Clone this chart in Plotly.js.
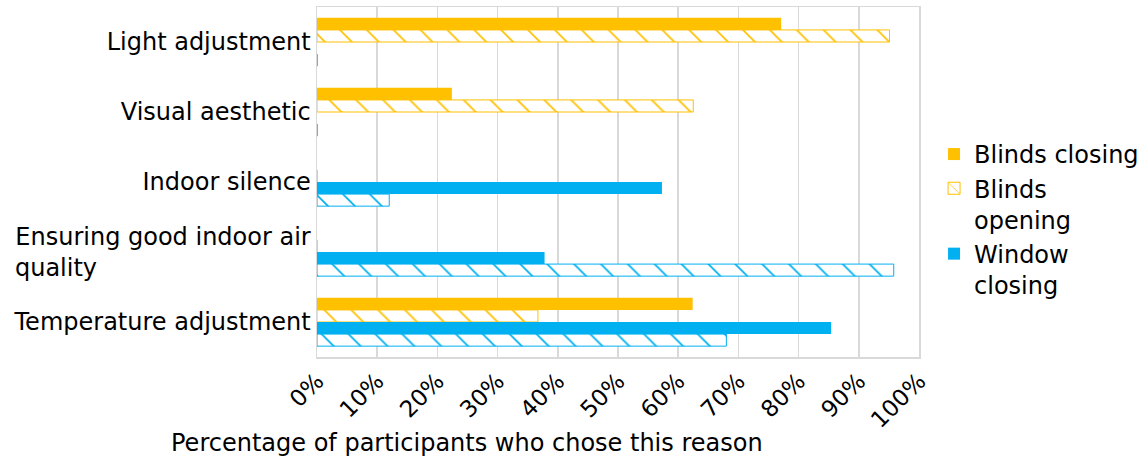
<!DOCTYPE html>
<html>
<head>
<meta charset="utf-8">
<script src="https://cdn.plot.ly/plotly-3.0.1.min.js"></script>
<style>html,body{margin:0;padding:0;background:#fff;}#chart{width:1141px;height:462px;}</style>
</head>
<body>
<div id="chart"></div>
<script>
// Categories (top to bottom)
var categories = [
  "Light adjustment",
  "Visual aesthetic",
  "Indoor silence",
  "Ensuring good indoor air quality",
  "Temperature adjustment"
];
// Display labels for the category axis
var categoryLabels = [
  "Light adjustment",
  "Visual aesthetic",
  "Indoor silence",
  "Ensuring good indoor air<br>quality" + "\u00a0".repeat(28),
  "Temperature adjustment"
];
var seriesNames = ["Blinds closing", "Blinds opening", "Window closing", "Window opening"];
// Percentage of participants
var blindsClosing  = [77.1, 22.4, 0, 0, 62.4];
var blindsOpening  = [95.1, 62.5, 0, 0, 36.7];
var windowClosing  = [0, 0, 57.3, 37.8, 85.4];
var windowOpening  = [0, 0, 12.0, 95.8, 68.0];
var xTickVals = [0,10,20,30,40,50,60,70,80,90,100];

var YELLOW = "#FFC000", BLUE = "#00B0F0";
var FONT = "DejaVu Sans";

function solid(name, vals, color) {
  return {type: "bar", orientation: "h", name: name, y: categories, x: vals,
    marker: {color: color, line: {color: color, width: 0}}, hoverinfo: "x+y"};
}
function hatched(name, vals, color, show) {
  return {type: "bar", orientation: "h", name: name, y: categories, x: vals, showlegend: show,
    marker: {color: "#ffffff", line: {color: color, width: 1},
      pattern: {shape: "\\", size: 19, solidity: 0.09, fgcolor: color, bgcolor: "#ffffff", fillmode: "replace"}},
    hoverinfo: "x+y"};
}

var data = [
  solid(seriesNames[0], blindsClosing, YELLOW),
  hatched(seriesNames[1].replace(" ", "<br>"), blindsOpening, YELLOW, true),
  solid(seriesNames[2].replace(" ", "<br>"), windowClosing, BLUE),
  hatched(seriesNames[3], windowOpening, BLUE, false)
];

var layout = {
  width: 1141, height: 462,
  margin: {l: 317, r: 222, t: 7, b: 105, autoexpand: false},
  paper_bgcolor: "#ffffff", plot_bgcolor: "#ffffff",
  font: {family: FONT, size: 24, color: "#000000"},
  barmode: "group", bargap: 0.31, bargroupgap: 0,
  xaxis: {range: [0, 100], tickvals: xTickVals, ticktext: xTickVals.map(function(v){return v + "%";}),
    tickangle: -45, showgrid: true, gridcolor: "#d9d9d9", gridwidth: 1.5,
    showline: true, mirror: true, linecolor: "#d9d9d9", linewidth: 1.5, zeroline: false,
    ticks: "", tickfont: {size: 23}, fixedrange: true},
  yaxis: {type: "category", categoryorder: "array", categoryarray: categories,
    tickvals: categories, ticktext: categoryLabels,
    autorange: "reversed", showgrid: false, showline: true, mirror: true,
    linecolor: "#d9d9d9", linewidth: 1.5, ticks: "", tickfont: {size: 24}, fixedrange: true},
  legend: {x: 1.025, xanchor: "left", y: 0.643, yanchor: "top", valign: "top",
    font: {size: 24}, traceorder: "normal", bgcolor: "rgba(0,0,0,0)"},
  annotations: [{xref: "paper", yref: "paper", x: (467 - 317) / 602, y: -(443 - 357) / 350,
    xanchor: "center", yanchor: "middle", showarrow: false,
    text: "Percentage of participants who chose this reason", font: {size: 24}}]
};

Plotly.newPlot("chart", data, layout, {displayModeBar: false, staticPlot: true});
</script>
</body>
</html>
